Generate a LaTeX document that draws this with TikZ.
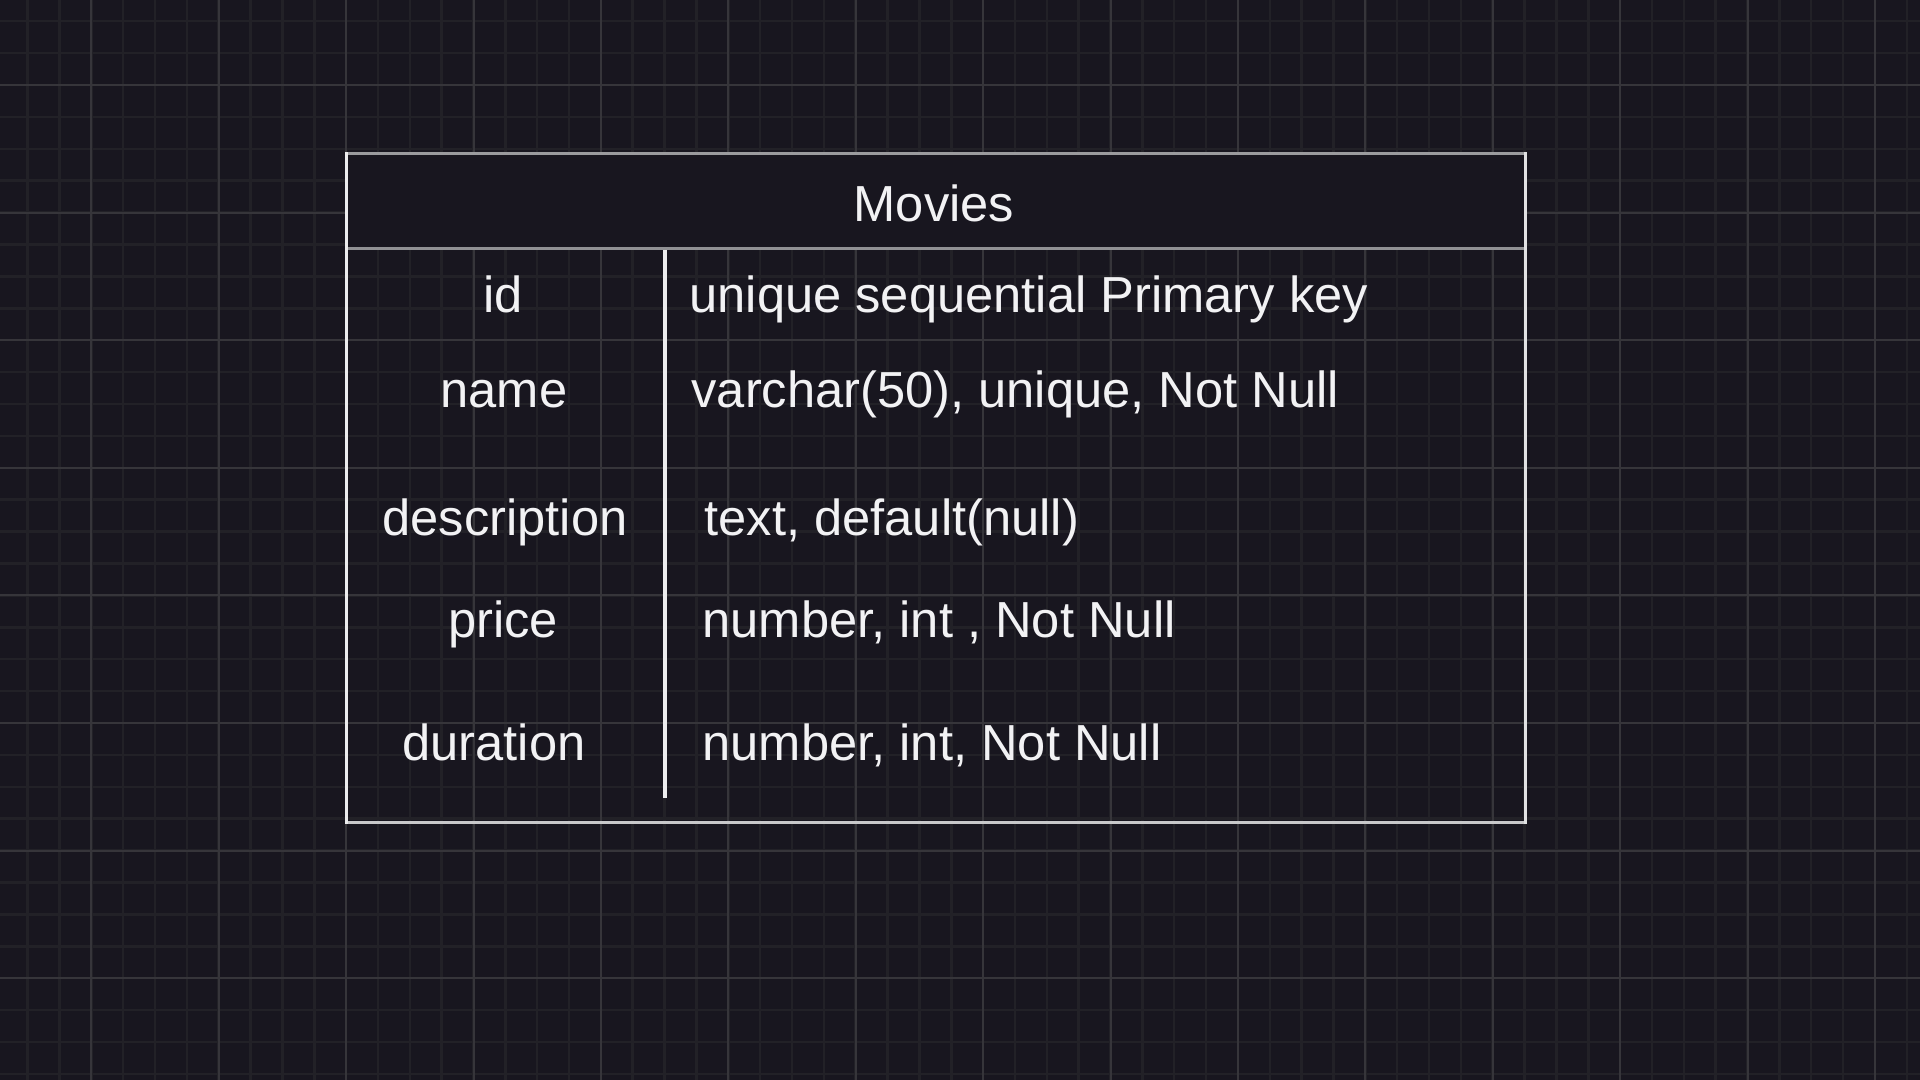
\documentclass[tikz,border=0pt]{standalone}
\usepackage{fontspec}
\setmainfont{Liberation Sans}

\definecolor{bgcol}{RGB}{24,22,31}
\definecolor{minorcol}{RGB}{34,33,39}
\definecolor{majorcol}{RGB}{54,53,58}
\definecolor{txtcol}{RGB}{242,242,244}
\definecolor{topgray}{RGB}{155,155,158}
\definecolor{divgray}{RGB}{145,145,148}
\definecolor{botgray}{RGB}{200,200,202}
\definecolor{sidewhite}{RGB}{236,236,238}

\tikzset{every picture/.style={line width=0.75pt}}
\tikzset{
  minorgrid/.style={draw=minorcol, line width=1.9pt},
  majorgrid/.style={draw=majorcol, line width=1.5pt},
  cell/.style={text=txtcol, inner sep=0pt, font=\fontsize{38}{46}\selectfont}
}

\begin{document}
\begin{tikzpicture}[x=0.75pt,y=0.75pt,yscale=-1,xscale=1]
\useasboundingbox (0,0) rectangle (1920,1080);
\fill[bgcol] (0,0) rectangle (1920,1080);

%Grid
\foreach \i in {-2,...,57} \draw[minorgrid] ({91.3+31.85*\i},0) -- ({91.3+31.85*\i},1080);
\foreach \j in {-2,...,31} \draw[minorgrid] (0,{85+31.9*\j}) -- (1920,{85+31.9*\j});
\foreach \i in {0,...,14} \draw[majorgrid] ({91.3+127.4*\i},0) -- ({91.3+127.4*\i},1080);
\foreach \j in {0,...,7} \draw[majorgrid] (0,{85+127.6*\j}) -- (1920,{85+127.6*\j});

%Header
\fill[bgcol] (346.5,154) rectangle (1525.5,248.5);

%Straight Lines
\draw [topgray, line width=2.25pt] (346.5,154) -- (1525.5,154) ;
\draw [divgray, line width=2.6pt] (348,248.5) -- (1524,248.5) ;
\draw [botgray, line width=2.25pt] (345,822) -- (1527,822) ;
%Straight Lines
\draw [sidewhite, line width=2.25pt] (346.5,152.5) -- (346.5,823.5) ;
\draw [sidewhite!90!gray, line width=2.25pt] (1525.5,152.5) -- (1525.5,823.5) ;
\draw [sidewhite, line width=2.4pt] (665,250) -- (665,798) ;

% Text Node
\node [cell, anchor=base] (title) at (934,222) {Movies};
% Text Node
\node [cell, anchor=base] (fid) at (503,313) {id};
\node [cell, anchor=base] (fname) at (504,407) {name};
\node [cell, anchor=base] (fdesc) at (505,535) {description};
\node [cell, anchor=base] (fprice) at (503,637) {price};
\node [cell, anchor=base] (fdur) at (494,760) {duration};
% Text Node
\node [cell, anchor=base west] (tid) at (689,313) {unique sequential Primary key};
\node [cell, anchor=base west] (tname) at (691,407) {varchar(50), unique, Not Null};
\node [cell, anchor=base west] (tdesc) at (704,535) {text, default(null)};
\node [cell, anchor=base west] (tprice) at (702,637) {number, int , Not Null};
\node [cell, anchor=base west] (tdur) at (702,760) {number, int, Not Null};

\end{tikzpicture}
\end{document}
